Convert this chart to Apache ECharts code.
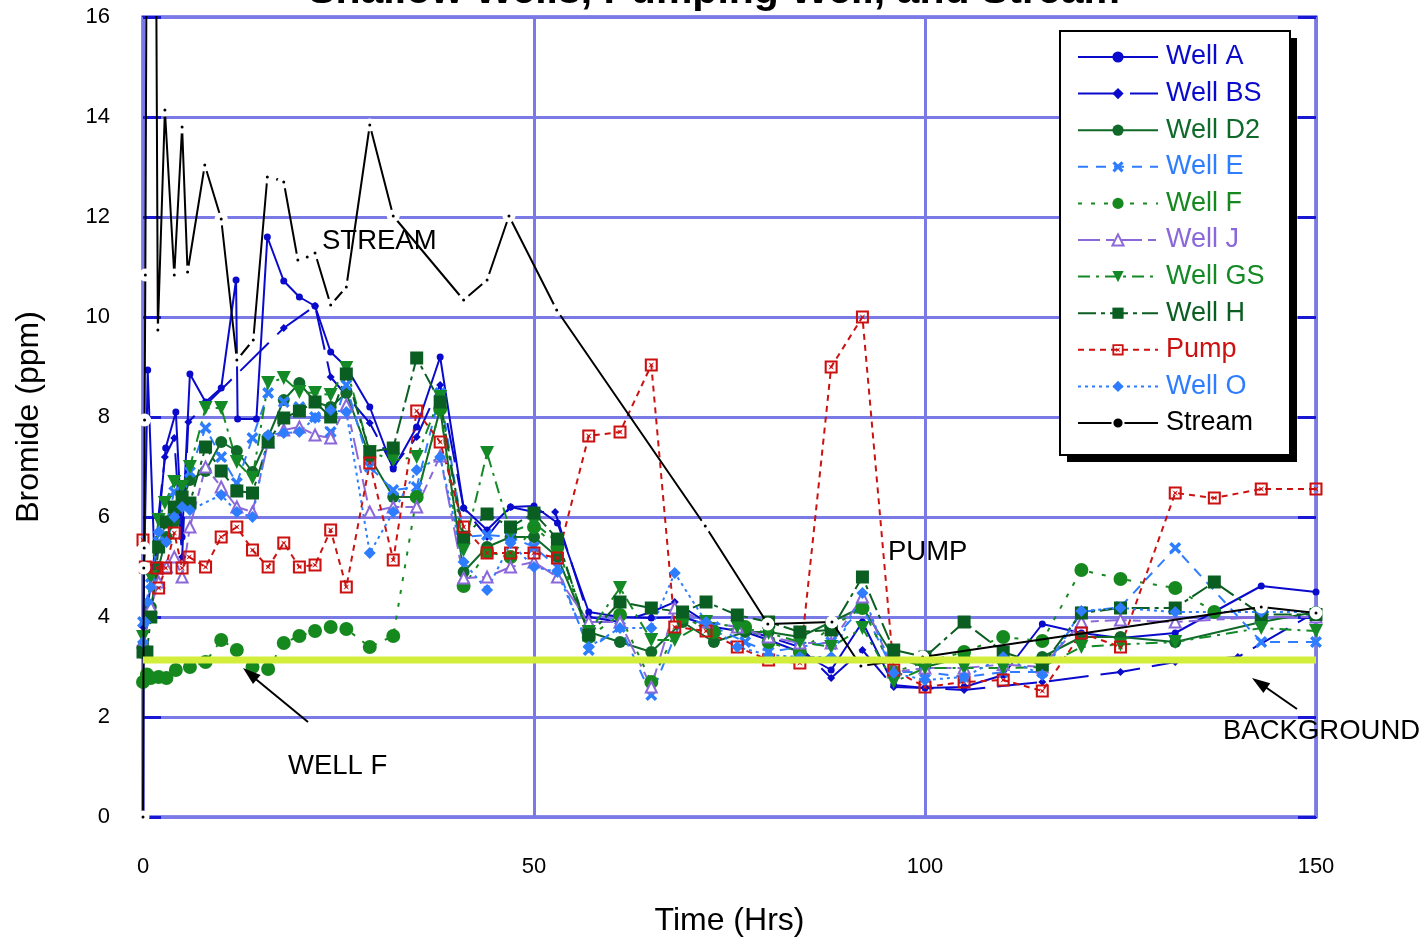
<!DOCTYPE html>
<html><head><meta charset="utf-8">
<script src="https://cdn.jsdelivr.net/npm/echarts@6/dist/echarts.min.js"></script>
<style>html,body{margin:0;padding:0;background:#fff}#c{width:1428px;height:948px}</style>
</head><body><div id="c"></div>
<script>
// ---- data: [time (hrs), bromide (ppm)] ----
const xTicks = [0, 50, 100, 150];
const yTicks = [0, 2, 4, 6, 8, 10, 12, 14, 16];
const backgroundLevel = [[0, 3.14], [150, 3.14]];

const wellA = [[0,3.5],[0.6,8.94],[1.5,5.0],[2.9,7.38],[4.2,8.1],[5,5.6],[6,8.86],[8,8.3],[10,8.58],[11.9,10.74],[12.1,7.96],[14.5,7.96],[15.9,11.6],[18,10.72],[20,10.4],[22,10.22],[24,9.3],[26,9.0],[29,8.2],[32,6.96],[35,7.8],[38,9.2],[41,6.18],[44,5.74],[47,6.2],[50,6.22],[53,5.88],[57,4.1],[61,4.0],[65,3.98],[69,4.0],[73,3.8],[77,3.7],[80,3.54],[84,3.3],[88,2.94],[92,3.9],[96,2.64],[100,2.58],[105,2.6],[110,2.84],[115,3.86],[120,3.68],[125,3.58],[132,3.68],[143,4.62],[150,4.5]];
const wellBS = [[0,3.8],[1,4.6],[2.8,7.2],[4,7.58],[5,5.2],[5.8,7.9],[18,9.78],[22,10.22],[24,8.8],[29,7.88],[32,7.0],[35,7.6],[38,8.64],[41,6.18],[44,5.6],[47,6.2],[50,6.1],[52.7,6.1],[57,4.0],[61,3.9],[65,4.1],[68,4.3],[72,3.9],[76,3.8],[80,3.6],[84,3.4],[88,2.78],[92,3.34],[96,2.6],[100,2.58],[105,2.54],[115,2.7],[125,2.9],[132,3.1],[140,3.2],[150,4.1]];
const wellD2 = [[0,3.4],[1,4.2],[2,5.0],[3,5.6],[4,5.9],[5,6.3],[6,6.74],[8,6.92],[10,7.5],[12,7.32],[14,6.9],[16,7.6],[18,8.34],[20,8.68],[22,8.3],[24,8.2],[26,8.48],[29,7.2],[32,6.4],[35,6.4],[38,8.16],[41,4.9],[44,5.4],[47,5.6],[50,5.6],[53,5.2],[57,3.7],[61,3.5],[65,3.3],[69,3.9],[73,3.5],[77,3.7],[80,3.7],[84,3.6],[88,3.9],[92,4.2],[96,3.2],[100,3.0],[105,3.2],[110,3.1],[115,3.2],[120,3.6],[125,3.6],[132,3.5],[143,3.9],[150,4.1]];
const wellE = [[0,3.9],[1,4.8],[2,5.5],[3,5.9],[4,6.5],[5,6.3],[6,6.9],[8,7.78],[10,7.2],[12,6.68],[14,7.58],[16,8.48],[18,8.3],[20,8.2],[22,8.0],[24,7.7],[26,8.64],[29,7.0],[32,6.54],[35,6.6],[38,8.48],[41,5.6],[44,5.64],[47,5.6],[50,5.4],[53,5.0],[57,3.34],[61,3.8],[65,2.44],[69,4.0],[73,3.8],[77,3.5],[80,3.3],[84,3.4],[88,3.5],[92,4.2],[96,2.9],[100,2.9],[105,2.8],[110,2.9],[115,2.9],[120,4.1],[125,4.2],[132,5.38],[143,3.5],[150,3.5]];
const wellF = [[0,2.7],[0.5,2.85],[1,2.78],[2,2.8],[3,2.78],[4.2,2.94],[6,3.0],[8,3.1],[10,3.54],[12,3.34],[14,3.0],[16,2.96],[18,3.48],[20,3.62],[22,3.72],[24,3.8],[26,3.76],[29,3.4],[32,3.62],[35,6.4],[38,8.16],[41,4.62],[44,5.3],[47,5.2],[50,5.8],[53,5.4],[57,3.6],[61,4.04],[65,2.7],[69,4.0],[73,3.7],[77,3.8],[80,3.5],[84,3.3],[88,3.8],[92,4.18],[96,2.9],[100,3.1],[105,3.3],[110,3.6],[115,3.52],[120,4.94],[125,4.76],[132,4.58],[137,4.1]];
const wellJ = [[0,3.5],[1,4.2],[2,4.7],[3,5.0],[4,5.2],[5,4.8],[6,5.8],[8,7.0],[10,6.6],[12,6.2],[14,6.1],[16,7.5],[18,7.74],[20,7.8],[22,7.64],[24,7.58],[26,8.24],[29,6.1],[32,6.2],[35,6.2],[38,7.22],[41,4.78],[44,4.8],[47,5.0],[50,5.1],[53,4.8],[57,3.9],[61,3.9],[65,2.6],[68,4.18],[72,3.9],[76,3.8],[80,3.6],[84,3.48],[88,3.48],[92,4.4],[96,2.9],[100,2.98],[105,2.98],[110,3.05],[115,3.0],[120,3.9],[125,3.94],[132,3.9],[143,4.0],[150,4.0]];
const wellGS = [[0,3.6],[1,4.8],[2,5.94],[2.8,6.28],[4,6.7],[5,6.6],[6,7.0],[8,8.18],[10,8.18],[12,7.1],[14,6.78],[16,8.68],[18,8.78],[20,8.5],[22,8.48],[24,8.44],[26,8.98],[29,7.3],[32,7.14],[35,7.2],[38,8.4],[41,5.34],[44,7.28],[47,5.7],[50,5.88],[53,5.5],[57,3.7],[61,4.58],[65,3.54],[68,3.54],[72,3.9],[76,3.8],[80,3.68],[84,3.5],[88,3.4],[92,3.78],[96,2.7],[100,2.98],[105,2.98],[110,2.98],[115,3.0],[120,3.4],[125,3.45],[132,3.5],[143,3.78],[150,3.72]];
const wellH = [[0,3.3],[0.5,3.3],[1,4.0],[2,5.4],[3,5.9],[4,6.2],[5,6.4],[6,6.28],[8,7.4],[10,6.92],[12,6.52],[14,6.48],[16,7.5],[18,7.98],[20,8.12],[22,8.3],[24,8.0],[26,8.86],[29,7.3],[32,7.38],[35,9.18],[38,8.3],[41,5.6],[44,6.06],[47,5.8],[50,6.08],[53,5.56],[57,3.64],[61,4.3],[65,4.18],[69,4.1],[72,4.3],[76,4.04],[80,3.9],[84,3.7],[88,3.74],[92,4.8],[96,3.34],[100,3.2],[105,3.9],[110,3.3],[115,3.04],[120,4.08],[125,4.18],[132,4.18],[137,4.7],[143,4.05],[150,4.05]];
const pump = [[0,5.54],[0.3,5.0],[1.8,4.98],[2,4.58],[2.9,4.98],[4,5.68],[5,4.98],[5.9,5.2],[8,5.0],[10,5.6],[12,5.8],[14,5.34],[16,5.0],[18,5.48],[20,5.0],[22,5.04],[24,5.74],[26,4.6],[29,7.08],[32,5.14],[35,8.12],[38,7.5],[41,5.8],[44,5.28],[47,5.28],[50,5.28],[53,5.18],[57,7.62],[61,7.7],[65,9.04],[68,3.8],[72,3.72],[76,3.4],[80,3.14],[84,3.08],[88,9.0],[92,10.0],[96,2.94],[100,2.6],[105,2.7],[110,2.74],[115,2.52],[120,3.68],[125,3.4],[132,6.48],[137,6.38],[143,6.56],[150,6.56]];
const wellO = [[0,3.5],[0.3,3.9],[0.6,4.3],[1,4.6],[2,5.7],[3,5.5],[4,6.0],[5,6.2],[6,6.14],[10,6.44],[12,6.1],[14,6.0],[16,7.64],[18,7.68],[20,7.7],[22,7.98],[24,8.14],[26,8.1],[29,5.28],[32,6.1],[35,6.94],[38,7.2],[41,5.1],[44,4.54],[47,5.48],[50,5.0],[53,4.9],[57,3.4],[61,3.78],[65,3.78],[68,4.88],[72,3.9],[76,3.4],[80,3.24],[84,3.2],[88,3.2],[92,4.48],[96,2.88],[100,2.74],[105,2.8],[110,3.2],[115,2.84],[120,4.12],[125,4.18],[132,4.1],[143,4.1],[150,4.1]];
const stream = [[0,0],[0.1,4.98],[0.15,5.38],[0.2,7.94],[0.3,10.84],[1.0,40],[1.9,9.74],[2.8,14.14],[4,10.84],[5,13.8],[5.7,10.9],[7.9,13.04],[10,11.96],[12,9.14],[14.1,9.54],[15.9,12.8],[17.2,12.75],[18,12.7],[19.8,11.14],[21,11.2],[22,11.28],[24,10.24],[26,10.6],[29,13.84],[32,12.02],[41,10.34],[44,10.74],[46.8,12.02],[52.9,10.14],[71.9,5.82],[79.9,3.86],[88.1,3.9],[91.8,3.02],[99.7,3.2],[143,4.2],[150,4.08]];

// ---- styling ----
const FONT = 'Liberation Sans, Arial, Helvetica, sans-serif';
const C = {
  A:'#0A0ACC', BS:'#0A0ACC', D2:'#0F6A2A', E:'#2E7DFF', F:'#16891E', J:'#8B68DA',
  GS:'#138A26', H:'#0B5E22', Pump:'#CC1111', O:'#2E7DFF', Stream:'#000000'
};
const X_SYM = 'path://M2,0L5,3L8,0L10,2L7,5L10,8L8,10L5,7L2,10L0,8L3,5L0,2Z';
const PUMP_SYM = 'path://M0,0H10V10H0Z M1.6,1.6V8.4H8.4V1.6Z M2.8,2.8L5,4.2L7.2,2.8L5.8,5L7.2,7.2L5,5.8L2.8,7.2L4.2,5Z';

function mk(name, data, color, dash, symbol, size, extra) {
  return Object.assign({
    name, type:'line', data, symbol, symbolSize:size, z:3,
    lineStyle:{color, width:2, type:dash},
    itemStyle:{color},
    emphasis:{disabled:true}, animation:false
  }, extra || {});
}

const series = [
  mk('Well A', wellA, C.A, 'solid', 'circle', 7),
  mk('Well BS', wellBS, C.BS, [40,12], 'diamond', 8),
  mk('Well D2', wellD2, C.D2, 'solid', 'circle', 12),
  mk('Well E', wellE, C.E, [10,8], X_SYM, 12),
  mk('Well F', wellF, C.F, [4,9], 'circle', 14),
  mk('Well J', wellJ, C.J, [22,6,8,6], 'triangle', 11, {itemStyle:{color:'#ffffff', borderColor:C.J, borderWidth:2}}),
  mk('Well GS', wellGS, C.GS, [12,6,3,6], 'triangle', 14, {symbolRotate:180}),
  mk('Well H', wellH, C.H, [18,5,4,5], 'rect', 13),
  mk('Pump', pump, C.Pump, [6,5], PUMP_SYM, 13),
  mk('Well O', wellO, C.O, [3,4], 'diamond', 12),
  mk('Stream', stream, C.Stream, 'solid', 'circle', 8, {itemStyle:{color:'#000', borderColor:'#fff', borderWidth:5}, z:4}),
  {name:'Background', type:'line', data:backgroundLevel, symbol:'none', z:5, silent:true,
   lineStyle:{color:'#D2EE3A', width:7}, animation:false}
];

const legendColors = {'Well A':C.A,'Well BS':C.BS,'Well D2':C.D2,'Well E':C.E,'Well F':C.F,'Well J':C.J,
  'Well GS':C.GS,'Well H':C.H,'Pump':C.Pump,'Well O':C.O,'Stream':'#000'};

const chart = echarts.init(document.getElementById('c'));
const gridLine = {show:true, lineStyle:{color:'#7A7AE6', width:3, type:'solid'}};
chart.setOption({
  backgroundColor:'#fff',
  animation:false,
  textStyle:{fontFamily:FONT},
  grid:{left:143, right:112, top:17, bottom:131, containLabel:false, outerBoundsMode:'none',
        show:true, borderColor:'#1818D4', borderWidth:3, backgroundColor:'transparent'},
  xAxis:{type:'value', min:0, max:150, interval:50,
    axisLine:{show:false}, axisTick:{show:false},
    axisLabel:{fontSize:22, color:'#000', margin:39, fontFamily:FONT, formatter:v=>xTicks.includes(v)?String(v):''},
    splitLine:gridLine,
    name:'Time (Hrs)', nameLocation:'middle', nameGap:88,
    nameTextStyle:{fontSize:32, color:'#000', fontFamily:FONT}},
  yAxis:[
    {type:'value', min:0, max:16, interval:2,
     axisLine:{show:false}, axisTick:{show:true, inside:true, length:18, lineStyle:{color:'#1818D4', width:3}},
     axisLabel:{fontSize:22, color:'#000', margin:33, fontFamily:FONT, formatter:v=>yTicks.includes(v)?String(v):''},
     splitLine:gridLine,
     name:'Bromide (ppm)', nameLocation:'middle', nameGap:98, nameRotate:90,
     nameTextStyle:{fontSize:32, color:'#000', fontFamily:FONT}},
    {type:'value', min:0, max:16, interval:2, position:'right',
     axisLine:{show:false}, axisTick:{show:true, inside:true, length:18, lineStyle:{color:'#1818D4', width:3}},
     axisLabel:{show:false}, splitLine:{show:false}}
  ],
  legend:{
    orient:'vertical', left:1077, top:43.5, z:10,
    padding:0,
    itemWidth:80, itemHeight:14, itemGap:9.6,
    selectedMode:false,
    textStyle:{fontSize:27, lineHeight:27, fontFamily:FONT, padding:[0,0,0,3]},
    data:Object.keys(legendColors).map(n=>({name:n, textStyle:{color:legendColors[n]}}))
  },
  graphic:[
    {type:'rect', shape:{x:1067, y:38, width:230, height:424}, style:{fill:'#000'}, z:1},
    {type:'rect', shape:{x:1060, y:31, width:230, height:424}, style:{fill:'#fff', stroke:'#000', lineWidth:2}, z:2},
    {type:'text', left:'center', top:-29, style:{text:'Shallow Wells, Pumping Well, and Stream', font:'bold 41px '+FONT, fill:'#000'}},
    {type:'text', x:322, y:241, style:{text:'STREAM', font:'27.5px '+FONT, fill:'#000', verticalAlign:'middle'}, z:10},
    {type:'text', x:888, y:552, style:{text:'PUMP', font:'27.5px '+FONT, fill:'#000', verticalAlign:'middle'}, z:10},
    {type:'text', x:288, y:766, style:{text:'WELL F', font:'27.5px '+FONT, fill:'#000', verticalAlign:'middle'}, z:10},
    {type:'text', x:1223, y:731, style:{text:'BACKGROUND', font:'27.5px '+FONT, fill:'#000', verticalAlign:'middle'}, z:10},
    {type:'line', shape:{x1:308, y1:722, x2:252, y2:676}, style:{stroke:'#000', lineWidth:2}, z:10},
    {type:'polygon', shape:{points:[[243,668],[260.6,674.9],[253,684.1]]}, style:{fill:'#000'}, z:10},
    {type:'line', shape:{x1:1297, y1:709, x2:1261, y2:684}, style:{stroke:'#000', lineWidth:2}, z:10},
    {type:'polygon', shape:{points:[[1252,678],[1270.2,683.3],[1263.4,693.1]]}, style:{fill:'#000'}, z:10}
  ],
  series
});
</script>
</body></html>
